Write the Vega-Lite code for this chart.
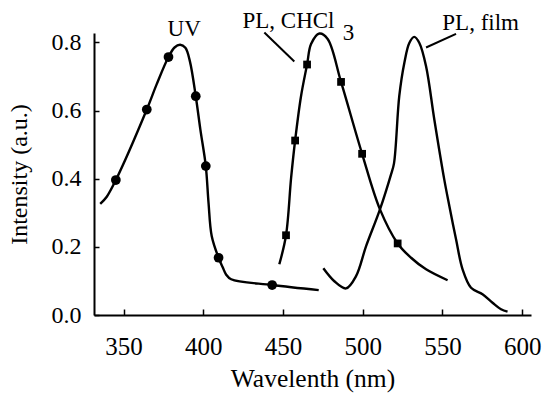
{
  "$schema": "https://vega.github.io/schema/vega-lite/v6.json",
  "width": 437,
  "height": 282,
  "autosize": "none",
  "padding": {"left": 94, "top": 33, "right": 16, "bottom": 79},
  "background": "white",
  "config": {
    "view": {"stroke": null},
    "font": "Liberation Serif",
    "axis": {"grid": false, "domainColor": "black", "domainWidth": 2, "tickColor": "black", "tickWidth": 1.5, "labelColor": "black", "titleColor": "black", "labelFont": "Liberation Serif", "titleFont": "Liberation Serif", "titleFontWeight": "normal"}
  },
  "datasets": {
    "curves": [
      {"s": "UV", "wl": 335.4, "v": 0.326},
      {"s": "UV", "wl": 339.5, "v": 0.347},
      {"s": "UV", "wl": 345.2, "v": 0.396},
      {"s": "UV", "wl": 364.6, "v": 0.603},
      {"s": "UV", "wl": 370.7, "v": 0.676},
      {"s": "UV", "wl": 378.2, "v": 0.757},
      {"s": "UV", "wl": 382.0, "v": 0.785},
      {"s": "UV", "wl": 385.5, "v": 0.793},
      {"s": "UV", "wl": 388.8, "v": 0.784},
      {"s": "UV", "wl": 391.6, "v": 0.745},
      {"s": "UV", "wl": 395.3, "v": 0.642},
      {"s": "UV", "wl": 398.2, "v": 0.544},
      {"s": "UV", "wl": 401.6, "v": 0.437},
      {"s": "UV", "wl": 403.3, "v": 0.330},
      {"s": "UV", "wl": 405.3, "v": 0.232},
      {"s": "UV", "wl": 409.6, "v": 0.168},
      {"s": "UV", "wl": 412.2, "v": 0.140},
      {"s": "UV", "wl": 414.3, "v": 0.119},
      {"s": "UV", "wl": 417.5, "v": 0.105},
      {"s": "UV", "wl": 443.2, "v": 0.088},
      {"s": "UV", "wl": 472.4, "v": 0.073},
      {"s": "CHCl3", "wl": 447.7, "v": 0.149},
      {"s": "CHCl3", "wl": 451.9, "v": 0.234},
      {"s": "CHCl3", "wl": 455.1, "v": 0.403},
      {"s": "CHCl3", "wl": 457.6, "v": 0.512},
      {"s": "CHCl3", "wl": 461.3, "v": 0.642},
      {"s": "CHCl3", "wl": 465.1, "v": 0.735},
      {"s": "CHCl3", "wl": 467.6, "v": 0.795},
      {"s": "CHCl3", "wl": 472.8, "v": 0.826},
      {"s": "CHCl3", "wl": 478.0, "v": 0.810},
      {"s": "CHCl3", "wl": 486.4, "v": 0.684},
      {"s": "CHCl3", "wl": 499.6, "v": 0.473},
      {"s": "CHCl3", "wl": 510.8, "v": 0.310},
      {"s": "CHCl3", "wl": 521.9, "v": 0.210},
      {"s": "CHCl3", "wl": 530.3, "v": 0.168},
      {"s": "CHCl3", "wl": 539.7, "v": 0.134},
      {"s": "CHCl3", "wl": 553.2, "v": 0.102},
      {"s": "film", "wl": 475.3, "v": 0.137},
      {"s": "film", "wl": 482.2, "v": 0.099},
      {"s": "film", "wl": 489.5, "v": 0.078},
      {"s": "film", "wl": 495.8, "v": 0.114},
      {"s": "film", "wl": 502.1, "v": 0.202},
      {"s": "film", "wl": 510.8, "v": 0.310},
      {"s": "film", "wl": 517.7, "v": 0.412},
      {"s": "film", "wl": 519.6, "v": 0.445},
      {"s": "film", "wl": 522.9, "v": 0.642},
      {"s": "film", "wl": 526.1, "v": 0.740},
      {"s": "film", "wl": 529.2, "v": 0.798},
      {"s": "film", "wl": 532.3, "v": 0.816},
      {"s": "film", "wl": 535.5, "v": 0.798},
      {"s": "film", "wl": 539.7, "v": 0.730},
      {"s": "film", "wl": 544.9, "v": 0.573},
      {"s": "film", "wl": 551.1, "v": 0.398},
      {"s": "film", "wl": 554.3, "v": 0.320},
      {"s": "film", "wl": 558.5, "v": 0.222},
      {"s": "film", "wl": 562.6, "v": 0.134},
      {"s": "film", "wl": 567.9, "v": 0.080},
      {"s": "film", "wl": 575.1, "v": 0.061},
      {"s": "film", "wl": 581.4, "v": 0.036},
      {"s": "film", "wl": 586.7, "v": 0.017},
      {"s": "film", "wl": 590.8, "v": 0.010}
    ],
    "circles": [
      {"wl": 345.2, "v": 0.396},
      {"wl": 364.6, "v": 0.603},
      {"wl": 378.2, "v": 0.757},
      {"wl": 395.3, "v": 0.642},
      {"wl": 401.6, "v": 0.437},
      {"wl": 409.6, "v": 0.168},
      {"wl": 443.2, "v": 0.088}
    ],
    "squares": [
      {"wl": 451.9, "v": 0.234},
      {"wl": 457.6, "v": 0.512},
      {"wl": 465.1, "v": 0.735},
      {"wl": 486.4, "v": 0.684},
      {"wl": 499.6, "v": 0.473},
      {"wl": 521.9, "v": 0.210}
    ],
    "labels": [
      {"t": "UV", "wl": 377.6, "v": 0.820},
      {"t": "PL, CHCl", "wl": 424.6, "v": 0.842},
      {"t": "3", "wl": 487.4, "v": 0.808},
      {"t": "PL, film", "wl": 549.9, "v": 0.837}
    ],
    "leaders": [
      {"wl": 438.3, "v": 0.829, "wl2": 457.1, "v2": 0.744},
      {"wl": 558.5, "v": 0.825, "wl2": 539.7, "v2": 0.785}
    ]
  },
  "layer": [
    {
      "data": {"name": "curves"},
      "mark": {"type": "line", "interpolate": "catmull-rom", "color": "black", "strokeWidth": 2.4},
      "encoding": {
        "x": {"field": "wl", "type": "quantitative", "scale": {"domain": [331.5, 605.5], "nice": false, "zero": false},
          "axis": {"values": [350, 400, 450, 500, 550, 600], "tickSize": -6, "labelFontSize": 25, "labelPadding": 25, "title": "Wavelenth (nm)", "titleFontSize": 25.5, "titlePadding": 7}},
        "y": {"field": "v", "type": "quantitative", "scale": {"domain": [0, 0.8275], "nice": false},
          "axis": {"values": [0, 0.1, 0.2, 0.3, 0.4, 0.5, 0.6, 0.7, 0.8], "tickSize": -5, "labelFontSize": 24, "labelPadding": 18,
            "labelExpr": "round(datum.value*10) % 2 == 0 ? format(datum.value, '.1f') : ''", "title": "Intensity (a.u.)", "titleFontSize": 24, "titlePadding": 20}},
        "detail": {"field": "s"}
      }
    },
    {
      "data": {"name": "circles"},
      "mark": {"type": "point", "shape": "circle", "filled": true, "color": "black", "opacity": 1, "size": 95},
      "encoding": {"x": {"field": "wl", "type": "quantitative"}, "y": {"field": "v", "type": "quantitative"}}
    },
    {
      "data": {"name": "squares"},
      "mark": {"type": "point", "shape": "square", "filled": true, "color": "black", "opacity": 1, "size": 60},
      "encoding": {"x": {"field": "wl", "type": "quantitative"}, "y": {"field": "v", "type": "quantitative"}}
    },
    {
      "data": {"name": "leaders"},
      "mark": {"type": "rule", "color": "black", "strokeWidth": 2},
      "encoding": {"x": {"field": "wl", "type": "quantitative"}, "y": {"field": "v", "type": "quantitative"}, "x2": {"field": "wl2"}, "y2": {"field": "v2"}}
    },
    {
      "data": {"name": "labels"},
      "mark": {"type": "text", "align": "left", "baseline": "alphabetic", "color": "black", "font": "Liberation Serif", "fontSize": 23},
      "encoding": {"x": {"field": "wl", "type": "quantitative"}, "y": {"field": "v", "type": "quantitative"}, "text": {"field": "t"}}
    }
  ]
}
